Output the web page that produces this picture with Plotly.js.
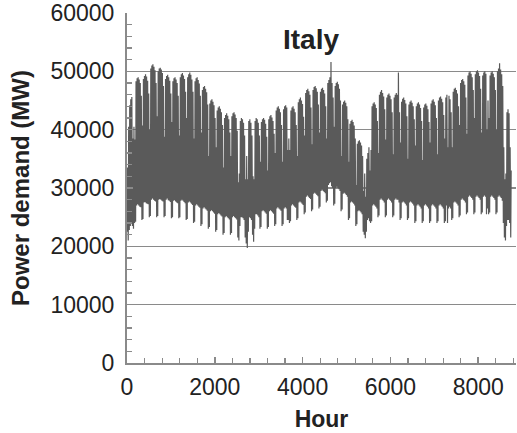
<!DOCTYPE html>
<html>
<head>
<meta charset="utf-8">
<script src="https://cdn.plot.ly/plotly-3.0.1.min.js"></script>
<style>
  html, body { margin: 0; padding: 0; background: #ffffff; }
  #chart { width: 517px; height: 433px; }
</style>
</head>
<body>
<div id="chart"></div>
<script>
// Daily peak demand (MW), one value per day of the year (Sun..Sat per row)
const dayMax = [
  33500, 40500, 44200, 45200, 45600, 38500, 40500,
  38300, 48300, 48800, 49000, 48600, 48000, 45800,
  40700, 48700, 49200, 49500, 49100, 48400, 46200,
  40000, 50500, 51000, 51200, 50800, 50200, 48000,
  42300, 50000, 50500, 50600, 50300, 49700, 47500,
  38800, 48700, 49200, 49400, 49000, 48400, 46200,
  41300, 48300, 48800, 49000, 48600, 48000, 45800,
  39000, 49000, 49500, 49700, 49300, 48700, 46500,
  42000, 49000, 49500, 49800, 49400, 48600, 46500,
  38500, 48300, 48800, 49000, 48500, 47900, 45800,
  39500, 46800, 47300, 47500, 47000, 46400, 44300,
  35500, 44500, 45000, 45200, 44800, 44200, 42000,
  37000, 43300, 43800, 44000, 43600, 43000, 40800,
  33500, 42000, 42500, 42800, 42400, 41800, 39500,
  35500, 42300, 42800, 43000, 42600, 42000, 39800,
  31000, 32500, 41500, 42000, 41800, 41200, 39000,
  31500, 35500, 31500, 41500, 41800, 41200, 39000,
  32000, 31500, 41500, 42000, 41800, 41200, 39000,
  34500, 41300, 41800, 42000, 41700, 41000, 38800,
  33000, 41800, 42300, 42500, 42100, 41500, 39300,
  36000, 43300, 43800, 44000, 43600, 43000, 40800,
  34500, 43500, 44000, 44200, 43800, 36500, 38500,
  36500, 43300, 43800, 44000, 43600, 43000, 40800,
  35500, 44700, 45200, 45500, 45000, 44400, 42200,
  39000, 46300, 46800, 47000, 46600, 46000, 43800,
  37500, 46800, 47300, 47500, 47100, 46500, 44300,
  39500, 46500, 47000, 47200, 46800, 46200, 44000,
  38500, 48000, 48500, 49000, 51600, 48000, 45500,
  40500, 47500, 48000, 48200, 47800, 47000, 45000,
  35500, 44300, 44800, 45000, 44600, 44000, 41800,
  34500, 41000, 41500, 41700, 41300, 40700, 38500,
  30500, 37600, 38000, 38200, 37800, 37300, 35500,
  29500, 32500, 28500, 35000, 36000, 37000, 33000,
  36500, 44000, 44500, 44700, 44300, 43700, 41500,
  36000, 46000, 46500, 46800, 46300, 45700, 43500,
  38300, 45500, 46000, 46200, 45800, 45200, 43000,
  35800, 45500, 46000, 46300, 46000, 49800, 43000,
  37800, 44800, 45300, 45500, 45100, 44500, 42300,
  35000, 44300, 44800, 45000, 44600, 44000, 41800,
  37300, 44000, 44500, 44700, 44300, 43700, 41500,
  34800, 43800, 44300, 44500, 44100, 43500, 41300,
  37800, 44500, 45000, 45200, 44800, 44200, 42000,
  35800, 45000, 45500, 45700, 45300, 44700, 42500,
  38500, 45500, 46000, 37000, 45800, 45200, 43000,
  37000, 46500, 47000, 47200, 46800, 46200, 44000,
  40800, 48000, 48500, 48700, 48300, 47700, 45500,
  39300, 49300, 49800, 50000, 49600, 49000, 46800,
  42000, 49500, 50000, 50200, 49800, 49200, 47000,
  39500, 49300, 49800, 50000, 49600, 40000, 45000,
  42000, 49300, 49800, 50000, 49600, 49000, 46800,
  40000, 50000, 50500, 51400, 50300, 49500, 47500,
  37000, 31500, 32500, 43000, 43500, 42800, 37000,
  33000
];
// Daily minimum (night) demand (MW)
const dayMin = [
  22500, 21000, 22800, 23500, 24000, 23500, 23000,
  24000, 24200, 27000, 27200, 27000, 26800, 26700,
  24500, 24700, 27500, 27600, 27400, 27300, 27200,
  25000, 25200, 28000, 28200, 28000, 27800, 27700,
  25000, 25200, 28000, 28100, 28000, 27800, 27700,
  25000, 25200, 28000, 28200, 27900, 27800, 27600,
  24800, 25000, 27800, 27900, 27700, 27500, 27400,
  24800, 25000, 27800, 28000, 27800, 27600, 27400,
  24500, 24700, 27500, 27700, 27500, 27300, 27100,
  24000, 24200, 27000, 27200, 27000, 26800, 26600,
  23500, 23800, 26500, 26700, 26500, 26300, 26100,
  23000, 23300, 26000, 26200, 26000, 25800, 25600,
  22500, 22800, 25500, 25700, 25500, 25300, 25100,
  22000, 22300, 25000, 25200, 25000, 24800, 24600,
  22000, 22300, 25000, 25200, 25000, 24800, 24600,
  21500, 21000, 23500, 25000, 25000, 24800, 24500,
  21500, 20500, 19700, 22500, 25000, 24800, 24500,
  22000, 20800, 23000, 25500, 25500, 25300, 25000,
  23000, 23300, 26000, 26200, 26000, 25800, 25600,
  23000, 23300, 26000, 26200, 26000, 25800, 25600,
  23500, 23800, 26500, 26700, 26500, 26300, 26100,
  23500, 23800, 26500, 26700, 26500, 24500, 24500,
  24000, 24300, 27000, 27200, 27000, 26800, 26600,
  24500, 24800, 27500, 27700, 27500, 27300, 27100,
  25500, 25800, 28500, 28700, 28500, 28300, 28100,
  26000, 26300, 29000, 29200, 29000, 28800, 28600,
  26500, 26800, 29500, 29700, 29500, 29300, 29100,
  27500, 27800, 30500, 30800, 31000, 30300, 30000,
  27000, 27300, 30000, 30200, 30000, 29800, 29500,
  26000, 26300, 29000, 29200, 29000, 28800, 28500,
  24500, 24800, 27500, 27700, 27500, 27300, 27000,
  23500, 23800, 26000, 26200, 26000, 25800, 25500,
  22500, 22000, 21400, 22500, 24500, 24800, 24300,
  24000, 24300, 27000, 27200, 27000, 26800, 26500,
  25000, 25300, 28000, 28200, 28000, 27800, 27500,
  25000, 25300, 28000, 28200, 28000, 27800, 27500,
  25000, 25300, 28000, 28200, 28000, 28000, 27500,
  24500, 24800, 27500, 27700, 27500, 27300, 27000,
  24500, 24800, 27500, 27700, 27500, 27300, 27000,
  24000, 24300, 27000, 27200, 27000, 26800, 26500,
  24000, 24300, 27000, 27200, 27000, 26800, 26500,
  24000, 24300, 27000, 27200, 27000, 26800, 26500,
  24000, 24300, 27000, 27200, 27000, 26800, 26500,
  24000, 24300, 27000, 24000, 26500, 26800, 26500,
  24500, 24800, 27500, 27700, 27500, 27300, 27000,
  25000, 25300, 28000, 28200, 28000, 27800, 27500,
  25500, 25800, 28500, 28700, 28500, 28300, 28000,
  25500, 25800, 28500, 28700, 28500, 28300, 28000,
  25500, 25800, 28500, 28700, 28500, 25500, 26500,
  25500, 25800, 28500, 28700, 28500, 28300, 28000,
  25500, 25800, 28500, 28700, 28500, 28300, 27800,
  24000, 21500, 21000, 23500, 24500, 24500, 24000,
  21500
];
const xTicks = [0, 2000, 4000, 6000, 8000];
const yTicks = [0, 10000, 20000, 30000, 40000, 50000, 60000];
const titleText = 'Italy';
const xTitle = 'Hour';
const yTitle = 'Power demand (MW)';

// Hour-of-year positions: night minimum around 04:00, daily peak around 14:00
const xs = [], ys = [];
for (let d = 0; d < dayMax.length; d++) {
  xs.push(24 * d + 4);  ys.push(dayMin[d]);
  xs.push(24 * d + 14); ys.push(dayMax[d]);
}

const FONT = 'Liberation Sans, Arial, Helvetica, sans-serif';
const AX = '#8a8a8a';

const trace = {
  type: 'scatter', mode: 'lines', x: xs, y: ys,
  line: { color: '#5a5a5a', width: 1.2 },
  hoverinfo: 'skip', showlegend: false
};

const layout = {
  width: 517, height: 433,
  margin: { l: 127, r: 1, t: 13, b: 70 },
  paper_bgcolor: '#ffffff', plot_bgcolor: '#ffffff',
  font: { family: FONT, color: '#222222', size: 23 },
  showlegend: false,
  xaxis: {
    range: [0, 8860], tickvals: xTicks, ticktext: xTicks.map(String),
    ticks: 'inside', ticklen: 6, tickwidth: 1.5, tickcolor: AX,
    minor: { dtick: 400, tick0: 0, ticks: 'inside', ticklen: 5, tickwidth: 1.2, tickcolor: AX, showgrid: false },
    showline: true, linecolor: AX, linewidth: 2,
    showgrid: false, zeroline: false,
    ticklabelstandoff: 2,
    tickfont: { family: FONT, size: 23, color: '#222222' },
    title: { text: '<b>' + xTitle + '</b>', font: { family: FONT, size: 23, color: '#222222' }, standoff: 12 }
  },
  yaxis: {
    range: [0, 60000], tickvals: yTicks, ticktext: yTicks.map(String),
    ticks: 'inside', ticklen: 6, tickwidth: 1.5, tickcolor: AX,
    minor: { dtick: 2000, tick0: 0, ticks: 'inside', ticklen: 5, tickwidth: 1.2, tickcolor: AX, showgrid: false },
    showline: true, linecolor: AX, linewidth: 2,
    showgrid: true, gridcolor: AX, gridwidth: 1.2,
    zeroline: false,
    ticklabelstandoff: 6,
    tickfont: { family: FONT, size: 23, color: '#222222' },
    title: { text: '<b>' + yTitle + '</b>', font: { family: FONT, size: 24, color: '#222222' }, standoff: 14 }
  },
  annotations: [{
    text: '<b>' + titleText + '</b>', xref: 'paper', yref: 'paper',
    x: 0.473, y: 0.925, xanchor: 'center', yanchor: 'middle', showarrow: false,
    font: { family: FONT, size: 28, color: '#222222' }
  }]
};

Plotly.newPlot('chart', [trace], layout, { staticPlot: true, displayModeBar: false });
</script>
</body>
</html>
